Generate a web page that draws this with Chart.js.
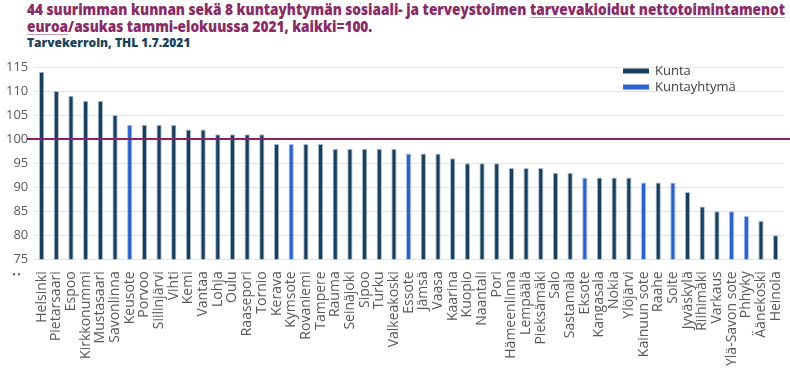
<!DOCTYPE html>
<html>
<head>
<meta charset="utf-8">
<script src="https://cdn.jsdelivr.net/npm/chart.js@4/dist/chart.umd.min.js"></script>
<style>
  body { margin: 0; background: #fff; width: 790px; height: 370px; overflow: hidden; }
  #title { position: absolute; left: 27px; top: 1px; font: 800 15px 'Open Sans', sans-serif; color: #8a2b66; line-height: 17px; white-space: nowrap; transform-origin: 0 0; }
  #title u { text-decoration-color: #c99bb8; text-underline-offset: 2px; }
  #sub { position: absolute; left: 27px; top: 34px; font: 800 12px 'Open Sans', sans-serif; color: #1b3f5e; white-space: nowrap; }
  #wrap { position: absolute; left: 0; top: 50px; width: 790px; height: 320px; }
</style>
</head>
<body>
<div id="title"><span id="line1">44 suurimman kunnan sekä 8 kuntayhtymän sosiaali- ja terveystoimen <u>tarvevakioidut nettotoimintamenot</u></span><br><u>euroa</u>/asukas tammi-elokuussa 2021, kaikki=100.</div>
<div id="sub">Tarvekerroln, THL 1.7.2021</div>
<div id="wrap"><canvas id="myChart"></canvas></div>
<script>
// data
const labels = [
  "Helsinki", "Pietarsaari", "Espoo", "Kirkkonummi", "Mustasaari", "Savonlinna", "Keusote", "Porvoo",
  "Siilinjärvi", "Vihti", "Kemi", "Vantaa", "Lohja", "Oulu", "Raasepori", "Tornio",
  "Kerava", "Kymsote", "Rovaniemi", "Tampere", "Rauma", "Seinäjoki", "Sipoo", "Turku",
  "Valkeakoski", "Essote", "Jämsä", "Vaasa", "Kaarina", "Kuopio", "Naantali", "Pori",
  "Hämeenlinna", "Lempäälä", "Pieksämäki", "Salo", "Sastamala", "Eksote", "Kangasala", "Nokia",
  "Ylöjärvi", "Kainuun sote", "Raahe", "Soite", "Jyväskylä", "Riihimäki", "Varkaus", "Ylä-Savon sote",
  "Phhyky", "Äänekoski", "Heinola"
];
const values = [
  114, 110, 109, 108, 108, 105, 103, 103,
  103, 103, 102, 102, 101, 101, 101, 101,
  99, 99, 99, 99, 98, 98, 98, 98,
  98, 97, 97, 97, 96, 95, 95, 95,
  94, 94, 94, 93, 93, 92, 92, 92,
  92, 91, 91, 91, 89, 86, 85, 85,
  84, 83, 80
];
// kuntayhtymät (the lighter blue bars)
const kuntayhtymat = ["Keusote", "Kymsote", "Essote", "Eksote", "Kainuun sote", "Soite", "Ylä-Savon sote", "Phhyky"];
const yTicks = [75, 80, 85, 90, 95, 100, 105, 110, 115];
const reference = 100;

// squeeze the title so that the first line fits like in the original
const title = document.getElementById("title");
const w1 = document.getElementById("line1").getBoundingClientRect().width;
title.style.transform = "scaleX(" + (758 / w1) + ")";

const kuntaData = values.map(function (v, i) {
  return kuntayhtymat.includes(labels[i]) ? null : v;
});
const kyData = values.map(function (v, i) {
  return kuntayhtymat.includes(labels[i]) ? v : null;
});

const navy = "#173f5f";
const blue = "#2a62d6";

// purple 100-line, small ":" mark and legend
const extras = {
  id: "extras",
  afterDatasetsDraw: function (chart) {
    const ctx = chart.ctx;
    const y = chart.scales.y.getPixelForValue(reference);
    ctx.save();
    ctx.strokeStyle = "#8c2060";
    ctx.lineWidth = 2;
    ctx.beginPath();
    ctx.moveTo(27, y);
    ctx.lineTo(chart.width, y);
    ctx.stroke();

    ctx.fillStyle = "#404040";
    ctx.font = "bold 12px 'Open Sans'";
    ctx.translate(17, chart.chartArea.bottom + 15);
    ctx.rotate(-Math.PI / 2);
    ctx.textAlign = "center";
    ctx.textBaseline = "middle";
    ctx.fillText(":", 0, 0);
    ctx.restore();

    ctx.save();
    const lx = 623;
    const items = [["Kunta", navy], ["Kuntayhtymä", blue]];
    ctx.font = "13px 'Open Sans'";
    ctx.textBaseline = "middle";
    items.forEach(function (it, i) {
      const ly = chart.chartArea.top + 4 + i * 16;
      ctx.fillStyle = it[1];
      ctx.fillRect(lx, ly - 2.5, 26, 5);
      ctx.fillStyle = "#404040";
      ctx.fillText(it[0], lx + 32, ly);
    });
    ctx.restore();
  }
};

const ctx = document.getElementById("myChart");
const myChart = new Chart(ctx, {
  type: "bar",
  data: {
    labels: labels,
    datasets: [
      {
        label: "Kunta",
        data: kuntaData,
        backgroundColor: navy,
        borderColor: "#a9bccd",
        borderWidth: 1,
        barPercentage: 0.36,
        categoryPercentage: 1,
      },
      {
        label: "Kuntayhtymä",
        data: kyData,
        backgroundColor: blue,
        borderColor: "#a9c0ee",
        borderWidth: 1,
        barPercentage: 0.36,
        categoryPercentage: 1,
      },
    ],
  },
  options: {
    responsive: true,
    maintainAspectRatio: false,
    animation: false,
    layout: {
      padding: { top: 17, right: 7, bottom: 0, left: 0 }
    },
    scales: {
      x: {
        stacked: true,
        grid: { display: false },
        border: { display: false },
        afterFit: function (scale) {
          scale.paddingRight = 0;
          scale.paddingLeft = 0;
        },
        ticks: {
          autoSkip: false,
          maxRotation: 90,
          minRotation: 90,
          color: "#595959",
          font: { family: "'Open Sans'", size: 14 },
          padding: 4,
        },
      },
      y: {
        stacked: false,
        min: 75,
        max: 115,
        afterBuildTicks: function (axis) {
          axis.ticks = yTicks.map(function (v) { return { value: v }; });
        },
        grid: { color: "#e4e4e4", drawTicks: false, lineWidth: 1 },
        border: { display: false },
        ticks: {
          color: "#595959",
          font: { family: "'Open Sans'", size: 13 },
          padding: 6,
        },
      },
    },
    plugins: {
      legend: { display: false },
      tooltip: { enabled: false },
    },
  },
  plugins: [extras],
});
</script>
</body>
</html>
